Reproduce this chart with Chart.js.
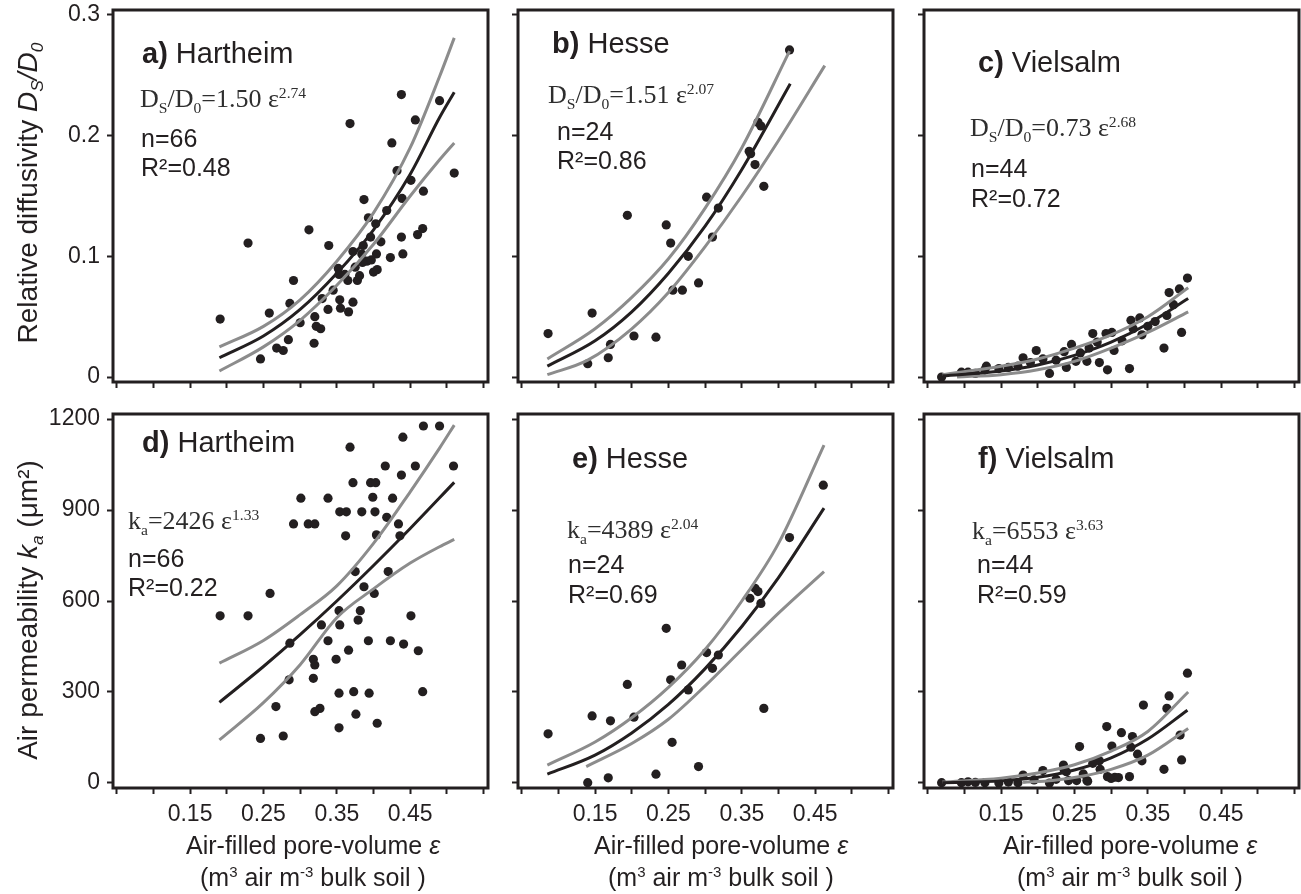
<!DOCTYPE html>
<html><head><meta charset="utf-8">
<script src="https://cdn.jsdelivr.net/npm/chart.js@4.4.1/dist/chart.umd.min.js"></script>
<style>
html,body{margin:0;padding:0;background:#fff;}
body{width:1301px;height:894px;position:relative;overflow:hidden;font-family:"Liberation Sans",Arial,sans-serif;color:#231f20;}
canvas{position:absolute;}
.t{position:absolute;white-space:nowrap;line-height:1;}
.serif{font-family:"Liberation Serif","Times New Roman",serif;color:#2e2e2e;}
.sb{font-size:60%;position:relative;top:0.38em;line-height:0;}
.sp{font-size:60%;position:relative;top:-0.62em;line-height:0;}
.ysub{font-size:62%;position:relative;top:0.35em;line-height:0;}
.xsup{font-size:60%;position:relative;top:-0.6em;line-height:0;}
.rot{position:absolute;white-space:nowrap;line-height:1;transform:translate(-50%,-50%) rotate(-90deg);}
</style></head><body>
<script>
// ---------- tick values / labels ----------
const xTickValues = [0.05,0.10,0.15,0.20,0.25,0.30,0.35,0.40,0.45,0.50,0.55];
const xTickLabels = ['','','0.15','','0.25','','0.35','','0.45','',''];
const yTicksDiff  = [0,0.1,0.2,0.3];
const yLabelsDiff = ['0','0.1','0.2','0.3'];
const yTicksPerm  = [0,300,600,900,1200];
const yLabelsPerm = ['0','300','600','900','1200'];

// ---------- a) Hartheim, relative diffusivity ----------
const pointsA = [[0.191,0.048],[0.229,0.111],[0.246,0.015],[0.258,0.053],[0.268,0.024],[0.277,0.022],[0.284,0.031],[0.286,0.061],[0.291,0.080],[0.300,0.045],[0.312,0.122],[0.319,0.028],[0.320,0.050],[0.322,0.042],[0.328,0.040],[0.330,0.065],[0.338,0.056],[0.339,0.109],[0.352,0.090],[0.353,0.085],[0.354,0.064],[0.355,0.057],[0.361,0.085],[0.366,0.054],[0.368,0.210],[0.372,0.062],[0.372,0.104],[0.375,0.091],[0.378,0.080],[0.381,0.084],[0.384,0.102],[0.386,0.109],[0.387,0.147],[0.391,0.096],[0.393,0.132],[0.396,0.116],[0.397,0.097],[0.400,0.087],[0.403,0.127],[0.404,0.102],[0.405,0.089],[0.418,0.138],[0.423,0.099],[0.425,0.194],[0.432,0.171],[0.438,0.234],[0.438,0.116],[0.439,0.148],[0.440,0.102],[0.451,0.163],[0.457,0.213],[0.460,0.118],[0.467,0.123],[0.468,0.154],[0.490,0.229],[0.510,0.169],[0.345,0.072],[0.365,0.080],[0.385,0.095],[0.410,0.112]];
const fitA   = [[0.19,0.016],[0.25,0.034],[0.30,0.056],[0.35,0.086],[0.40,0.122],[0.45,0.168],[0.49,0.215],[0.51,0.236]];
const upperA = [[0.19,0.025],[0.25,0.042],[0.30,0.064],[0.35,0.096],[0.40,0.136],[0.45,0.190],[0.49,0.249],[0.51,0.281]];
const lowerA = [[0.19,0.005],[0.25,0.025],[0.30,0.047],[0.35,0.076],[0.40,0.110],[0.45,0.150],[0.49,0.180],[0.51,0.194]];

// ---------- b) Hesse, relative diffusivity ----------
const pointsB = [[0.086,0.036],[0.140,0.011],[0.146,0.053],[0.168,0.016],[0.171,0.027],[0.194,0.134],[0.203,0.034],[0.233,0.033],[0.247,0.126],[0.253,0.111],[0.256,0.072],[0.269,0.072],[0.277,0.100],[0.291,0.078],[0.302,0.149],[0.310,0.116],[0.318,0.140],[0.360,0.187],[0.362,0.185],[0.368,0.176],[0.372,0.211],[0.376,0.208],[0.380,0.158],[0.415,0.271]];
const fitB   = [[0.085,0.009],[0.15,0.030],[0.20,0.054],[0.25,0.086],[0.30,0.125],[0.35,0.172],[0.416,0.243]];
const upperB = [[0.085,0.015],[0.15,0.040],[0.20,0.066],[0.25,0.098],[0.30,0.140],[0.35,0.190],[0.415,0.270]];
const lowerB = [[0.085,0.002],[0.14,0.014],[0.20,0.040],[0.25,0.070],[0.30,0.108],[0.35,0.150],[0.40,0.196],[0.463,0.258]];

// ---------- c) Vielsalm, relative diffusivity ----------
const pointsC = [[0.069,0.000],[0.096,0.004],[0.105,0.004],[0.128,0.006],[0.130,0.009],[0.147,0.007],[0.173,0.009],[0.180,0.016],[0.198,0.022],[0.207,0.015],[0.216,0.003],[0.236,0.021],[0.239,0.008],[0.246,0.027],[0.252,0.013],[0.267,0.013],[0.275,0.036],[0.281,0.029],[0.284,0.012],[0.293,0.036],[0.295,0.006],[0.301,0.037],[0.304,0.022],[0.325,0.007],[0.327,0.047],[0.339,0.049],[0.342,0.035],[0.372,0.024],[0.376,0.051],[0.379,0.070],[0.393,0.073],[0.396,0.037],[0.404,0.082],[0.115,0.003],[0.160,0.008],[0.190,0.012],[0.225,0.014],[0.258,0.020],[0.270,0.024],[0.315,0.030],[0.350,0.042],[0.360,0.046],[0.330,0.040],[0.385,0.060]];
const fitC   = [[0.07,0.001],[0.15,0.005],[0.20,0.010],[0.25,0.018],[0.30,0.029],[0.35,0.044],[0.405,0.065]];
const upperC = [[0.07,0.002],[0.15,0.009],[0.20,0.015],[0.25,0.024],[0.30,0.035],[0.35,0.050],[0.405,0.074]];
const lowerC = [[0.09,0.000],[0.15,0.002],[0.20,0.006],[0.25,0.013],[0.30,0.024],[0.35,0.037],[0.405,0.054]];

// ---------- d) Hartheim, air permeability ----------
const pointsD = [[0.191,551],[0.229,551],[0.246,147],[0.259,625],[0.267,252],[0.277,155],[0.286,461],[0.285,340],[0.291,854],[0.301,939],[0.311,854],[0.320,854],[0.318,408],[0.320,389],[0.318,345],[0.320,235],[0.327,246],[0.329,521],[0.338,939],[0.338,469],[0.349,408],[0.353,568],[0.354,521],[0.353,296],[0.353,182],[0.354,894],[0.363,894],[0.362,815],[0.366,438],[0.368,1107],[0.372,990],[0.375,697],[0.373,301],[0.376,227],[0.379,537],[0.382,568],[0.384,894],[0.387,647],[0.393,469],[0.394,296],[0.396,990],[0.399,942],[0.402,894],[0.403,990],[0.401,625],[0.404,818],[0.405,197],[0.416,1045],[0.418,876],[0.420,697],[0.423,469],[0.426,939],[0.434,854],[0.436,815],[0.438,1015],[0.440,1140],[0.441,458],[0.451,551],[0.457,1045],[0.461,436],[0.467,301],[0.468,1177],[0.490,1177],[0.509,1045]];
const fitD   = [[0.19,266],[0.25,384],[0.30,489],[0.35,600],[0.40,717],[0.45,839],[0.51,991]];
const upperD = [[0.19,395],[0.25,470],[0.30,555],[0.35,650],[0.40,790],[0.45,960],[0.49,1104],[0.51,1180]];
const lowerD = [[0.19,142],[0.25,265],[0.30,390],[0.35,545],[0.40,640],[0.45,725],[0.49,779],[0.51,803]];

// ---------- e) Hesse, air permeability ----------
const pointsE = [[0.086,162],[0.140,1],[0.146,221],[0.168,17],[0.171,205],[0.194,325],[0.203,217],[0.233,29],[0.247,510],[0.253,340],[0.255,134],[0.268,389],[0.277,307],[0.291,54],[0.302,430],[0.310,378],[0.318,422],[0.361,609],[0.368,642],[0.372,631],[0.376,592],[0.380,246],[0.415,809],[0.461,982]];
const fitE   = [[0.085,29],[0.15,92],[0.20,165],[0.25,259],[0.30,377],[0.35,516],[0.40,677],[0.462,906]];
const upperE = [[0.085,59],[0.15,135],[0.20,215],[0.25,315],[0.30,440],[0.35,600],[0.40,790],[0.462,1114]];
const lowerE = [[0.138,54],[0.20,130],[0.25,210],[0.30,320],[0.35,440],[0.40,560],[0.462,697]];

// ---------- f) Vielsalm, air permeability ----------
const pointsF = [[0.069,1],[0.096,1],[0.105,4],[0.128,1],[0.147,0],[0.173,1],[0.180,26],[0.207,41],[0.216,0],[0.236,43],[0.242,8],[0.257,120],[0.253,8],[0.267,8],[0.275,65],[0.284,73],[0.294,186],[0.295,21],[0.301,122],[0.305,19],[0.314,166],[0.325,21],[0.327,118],[0.329,153],[0.342,73],[0.344,257],[0.372,45],[0.376,246],[0.379,287],[0.394,158],[0.396,76],[0.404,362],[0.115,2],[0.160,3],[0.195,10],[0.225,12],[0.239,37],[0.235,59],[0.262,30],[0.268,6],[0.300,15],[0.310,18],[0.285,45],[0.336,95]];
const fitF   = [[0.07,1],[0.15,7],[0.20,19],[0.25,43],[0.30,83],[0.35,145],[0.404,240]];
const upperF = [[0.07,3],[0.15,16],[0.20,33],[0.25,60],[0.30,105],[0.35,170],[0.405,300]];
const lowerF = [[0.18,2],[0.22,8],[0.26,22],[0.30,45],[0.35,92],[0.405,180]];

// ---------- layout ----------
const panels = [
  {left:113, top:10,  w:375, h:372, ymin:-0.0041, ymax:0.3041, yt:yTicksDiff, yl:yLabelsDiff, showY:true,  showX:false, pts:pointsA, fit:fitA, up:upperA, lo:lowerA},
  {left:518, top:10,  w:375, h:372, ymin:-0.0041, ymax:0.3041, yt:yTicksDiff, yl:yLabelsDiff, showY:false, showX:false, pts:pointsB, fit:fitB, up:upperB, lo:lowerB},
  {left:924, top:10,  w:375, h:372, ymin:-0.0041, ymax:0.3041, yt:yTicksDiff, yl:yLabelsDiff, showY:false, showX:false, pts:pointsC, fit:fitC, up:upperC, lo:lowerC},
  {left:113, top:414, w:375, h:374, ymin:-16.5, ymax:1216.5, yt:yTicksPerm, yl:yLabelsPerm, showY:true,  showX:true, pts:pointsD, fit:fitD, up:upperD, lo:lowerD},
  {left:518, top:414, w:375, h:374, ymin:-16.5, ymax:1216.5, yt:yTicksPerm, yl:yLabelsPerm, showY:false, showX:true, pts:pointsE, fit:fitE, up:upperE, lo:lowerE},
  {left:924, top:414, w:375, h:374, ymin:-16.5, ymax:1216.5, yt:yTicksPerm, yl:yLabelsPerm, showY:false, showX:true, pts:pointsF, fit:fitF, up:upperF, lo:lowerF}
];
const INK = '#231f20', GRAY = '#8c8c8c';
const L = 70, R = 12, T = 30, B = 56;

const framePlugin = {
  id: 'frame',
  afterDraw(chart) {
    const {ctx, chartArea: a} = chart;
    ctx.save();
    ctx.strokeStyle = INK; ctx.lineWidth = 3;
    ctx.strokeRect(a.left, a.top, a.right - a.left, a.bottom - a.top);
    ctx.restore();
  }
};

const toXY = arr => arr.map(([x, y]) => ({x, y}));
const lineDs = (arr, color) => ({data: toXY(arr), showLine: true, borderColor: color, borderWidth: 3, pointRadius: 0, fill: false, cubicInterpolationMode: 'monotone'});

function makePanel(p) {
  const c = document.createElement('canvas');
  const W = p.w + L + R, H = p.h + T + B;
  c.width = W; c.height = H;
  c.style.left = (p.left - L) + 'px'; c.style.top = (p.top - T) + 'px';
  c.style.width = W + 'px'; c.style.height = H + 'px';
  document.body.appendChild(c);
  new Chart(c, {
    type: 'scatter',
    data: {datasets: [
      lineDs(p.fit, INK),
      lineDs(p.up, GRAY),
      lineDs(p.lo, GRAY),
      {data: toXY(p.pts), showLine: false, pointRadius: 4.6, pointBackgroundColor: INK, pointBorderWidth: 0, pointBorderColor: INK}
    ]},
    options: {
      responsive: false, animation: false, devicePixelRatio: 1, events: [],
      layout: {padding: {left: 0, top: T, right: R, bottom: 0}},
      plugins: {legend: {display: false}, tooltip: {enabled: false}},
      scales: {
        x: {
          type: 'linear', min: 0.045, max: 0.556,
          afterFit(s) { s.height = B; },
          afterBuildTicks(s) { s.ticks = xTickValues.map(v => ({value: v})); },
          ticks: {autoSkip: false, maxRotation: 0, minRotation: 0, padding: 7, color: INK,
                  font: {size: 23, family: 'Liberation Sans'},
                  callback: (v, i) => p.showX ? xTickLabels[i] : ''},
          grid: {drawOnChartArea: false, drawTicks: true, tickLength: 6, tickWidth: 2, tickColor: INK},
          border: {display: false}
        },
        y: {
          type: 'linear', min: p.ymin, max: p.ymax,
          afterFit(s) { s.width = L; },
          afterBuildTicks(s) { s.ticks = p.yt.map(v => ({value: v})); },
          ticks: {autoSkip: false, padding: 7, color: INK,
                  font: {size: 23, family: 'Liberation Sans'},
                  callback: (v, i) => p.showY ? p.yl[i] : ''},
          grid: {drawOnChartArea: false, drawTicks: true, tickLength: 6, tickWidth: 2, tickColor: INK},
          border: {display: false}
        }
      }
    },
    plugins: [framePlugin]
  });
}
panels.forEach(makePanel);

// ---------- text ----------
function put(html, x, baseline, size, cls, asc) {
  const d = document.createElement('div');
  d.className = 't ' + (cls || '');
  d.style.fontSize = size + 'px';
  d.style.left = x + 'px';
  d.style.top = (baseline - (asc || 0.8465) * size) + 'px';
  d.innerHTML = html;
  document.body.appendChild(d);
  return d;
}
function putSerif(html, x, baseline, size) { return put(html, x, baseline, size, 'serif', 0.8375); }

// panel titles
put('<b>a)</b> Hartheim', 142, 64, 29);
put('<b>b)</b> Hesse', 552, 54, 29);
put('<b>c)</b> Vielsalm', 978, 73, 29);
put('<b>d)</b> Hartheim', 142, 453, 29);
put('<b>e)</b> Hesse', 572, 469, 29);
put('<b>f)</b> Vielsalm', 978, 469, 29);

// equations
putSerif('D<span class="sb">S</span>/D<span class="sb">0</span>=1.50 ε<span class="sp">2.74</span>', 140, 108, 26);
putSerif('D<span class="sb">S</span>/D<span class="sb">0</span>=1.51 ε<span class="sp">2.07</span>', 548, 104, 26);
putSerif('D<span class="sb">S</span>/D<span class="sb">0</span>=0.73 ε<span class="sp">2.68</span>', 970, 137, 26);
putSerif('k<span class="sb">a</span>=2426 ε<span class="sp">1.33</span>', 128, 530, 26);
putSerif('k<span class="sb">a</span>=4389 ε<span class="sp">2.04</span>', 567, 539, 26);
putSerif('k<span class="sb">a</span>=6553 ε<span class="sp">3.63</span>', 972, 540, 26);

// n and R²
put('n=66', 141, 147, 25); put('R²=0.48', 141, 176, 25);
put('n=24', 557, 140, 25); put('R²=0.86', 557, 169, 25);
put('n=44', 971, 177, 25); put('R²=0.72', 971, 207, 25);
put('n=66', 128, 567, 25); put('R²=0.22', 128, 596, 25);
put('n=24', 568, 573, 25); put('R²=0.69', 568, 603, 25);
put('n=44', 977, 573, 25); put('R²=0.59', 977, 603, 25);

// y-axis titles
function rot(html, cx, cy, size) {
  const d = document.createElement('div');
  d.className = 'rot';
  d.style.fontSize = size + 'px';
  d.style.left = cx + 'px'; d.style.top = cy + 'px';
  d.innerHTML = html;
  document.body.appendChild(d);
}
rot('Relative diffusivity <i>D<span class="ysub">S</span>/D<span class="ysub">0</span></i>', 28, 193, 28);
rot('Air permeability <i>k<span class="ysub">a</span></i> (μm²)', 28, 610, 28);

// x-axis titles
[313, 721, 1130].forEach(cx => {
  const a = put('Air-filled pore-volume <i>ε</i>', 0, 854, 25);
  a.style.left = (cx - a.offsetWidth / 2) + 'px';
  const b = put('(m<span class="xsup">3</span> air m<span class="xsup">-3</span> bulk soil )', 0, 886, 25);
  b.style.left = (cx - b.offsetWidth / 2) + 'px';
});
</script>
</body></html>
